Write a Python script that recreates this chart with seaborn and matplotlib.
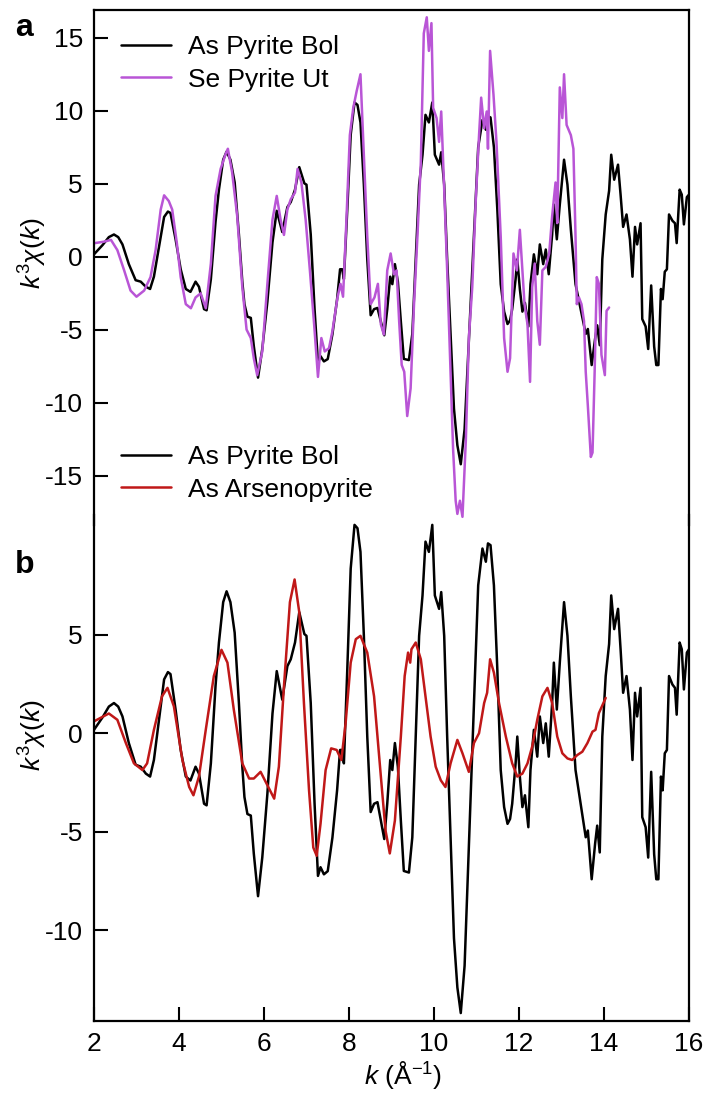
import numpy as np
import pandas as pd
import matplotlib
matplotlib.use('Agg')
import matplotlib.pyplot as plt
import seaborn as sns

# As Pyrite Bol (black, both panels)
k_bol = [2.00, 2.20, 2.35, 2.47, 2.57, 2.67, 2.82, 2.98, 3.10, 3.22, 3.32, 3.41, 3.53, 3.65, 3.74, 3.80,
         3.92, 4.04, 4.16, 4.27, 4.39, 4.47, 4.59, 4.65, 4.75, 4.86, 4.94, 5.04, 5.12, 5.21, 5.31, 5.41,
         5.49, 5.54, 5.61, 5.69, 5.76, 5.86, 5.96, 6.08, 6.20, 6.30, 6.43, 6.55, 6.63, 6.73, 6.83, 6.95,
         7.00, 7.10, 7.19, 7.27, 7.33, 7.41, 7.50, 7.61, 7.72, 7.79, 7.84, 7.88, 7.96, 8.04, 8.13, 8.20,
         8.27, 8.35, 8.43, 8.51, 8.59, 8.67, 8.75, 8.83, 8.90, 8.97, 9.02, 9.08, 9.15, 9.22, 9.29, 9.41,
         9.49, 9.57, 9.65, 9.73, 9.80, 9.88, 9.96, 10.02, 10.12, 10.17, 10.24, 10.31, 10.39, 10.47, 10.55,
         10.63, 10.72, 10.80, 10.86, 10.94, 11.04, 11.14, 11.22, 11.27, 11.33, 11.41, 11.49, 11.57, 11.65,
         11.73, 11.79, 11.84, 11.92, 11.96, 12.02, 12.08, 12.14, 12.22, 12.27, 12.35, 12.43, 12.49, 12.57,
         12.63, 12.70, 12.78, 12.82, 12.89, 12.96, 13.06, 13.14, 13.22, 13.33, 13.45, 13.57, 13.62, 13.71,
         13.79, 13.84, 13.90, 13.96, 14.04, 14.12, 14.17, 14.24, 14.33, 14.39, 14.45, 14.53, 14.61, 14.67,
         14.73, 14.78, 14.86, 14.90, 14.98, 15.04, 15.11, 15.18, 15.23, 15.28, 15.34, 15.38, 15.43, 15.48,
         15.53, 15.61, 15.67, 15.71, 15.78, 15.83, 15.88, 15.95, 16.00]
chi_bol = [0.17, 0.80, 1.35, 1.53, 1.35, 0.85, -0.5, -1.6, -1.7, -2.05, -2.2, -1.36, 0.68, 2.73, 3.1, 3.0,
           1.2, -0.85, -2.2, -2.4, -1.7, -2.05, -3.58, -3.66, -1.53, 2.4, 4.6, 6.65, 7.2, 6.65, 5.1, 1.53,
           -1.7, -3.24, -4.1, -4.18, -6.1, -8.27, -6.3, -3.07, 1.0, 3.15, 1.7, 3.4, 3.75, 4.6, 6.14, 5.03,
           4.94, 1.53, -3.58, -7.24, -6.8, -7.16, -7.0, -5.3, -2.9, -0.85, -0.85, -1.53, 3.24, 8.35, 10.57, 10.4,
           9.2, 4.94, -0.17, -4.0, -3.58, -3.5, -4.43, -5.37, -3.58, -1.36, -1.87, -0.5, -1.7, -4.43, -6.99, -7.07,
           -5.28, -0.17, 4.94, 6.99, 9.72, 9.2, 10.57, 6.99, 6.31, 7.16, 4.94, -0.17, -5.28, -10.4, -12.9,
           -14.2, -11.8, -6.99, -3.24, 1.53, 7.5, 9.37, 8.7, 9.63, 9.54, 7.5, 3.24, -1.87, -3.75,
           -4.6, -4.35, -3.58, -1.53, -0.17, -2.2, -3.75, -3.15, -4.77, -1.87, 0.17, -1.19, 0.85, -0.5,
           0.5, -1.19, 1.53, 3.58, 1.2, 3.58, 6.65, 4.94, 1.87, -1.87, -3.58, -5.28, -4.94, -7.41,
           -5.62, -4.69, -6.05, -0.17, 2.9, 4.52, 6.99, 5.28, 6.31, 4.26, 2.05, 2.9, 1.19, -1.36,
           2.05, 0.85, 2.3, -4.26, -4.77, -6.31, -1.96, -6.14, -7.41, -7.41, -2.2, -2.9, -1.02, -0.85,
           2.9, 2.47, 2.3, 0.94, 4.6, 4.26, 2.22, 4.09, 4.26]

# Se Pyrite Ut (purple, panel a)
k_se = [2.00, 2.24, 2.40, 2.55, 2.71, 2.86, 3.00, 3.18, 3.33, 3.45, 3.57, 3.65, 3.76, 3.84, 3.95, 4.04,
        4.16, 4.28, 4.39, 4.51, 4.63, 4.75, 4.86, 4.98, 5.10, 5.15, 5.25, 5.37, 5.49, 5.59, 5.69, 5.76,
        5.84, 5.96, 6.08, 6.20, 6.30, 6.39, 6.47, 6.55, 6.63, 6.73, 6.79, 6.88, 6.98, 7.08, 7.18, 7.27,
        7.35, 7.43, 7.53, 7.61, 7.73, 7.80, 7.86, 7.94, 8.02, 8.10, 8.18, 8.27, 8.33, 8.43, 8.51, 8.60,
        8.68, 8.75, 8.82, 8.90, 8.98, 9.06, 9.12, 9.18, 9.24, 9.30, 9.37, 9.45, 9.53, 9.61, 9.69, 9.76,
        9.83, 9.88, 9.94, 9.98, 10.06, 10.12, 10.17, 10.24, 10.31, 10.39, 10.45, 10.51, 10.55, 10.61, 10.67,
        10.75, 10.82, 10.90, 10.98, 11.06, 11.11, 11.18, 11.24, 11.27, 11.32, 11.40, 11.47, 11.57, 11.65,
        11.73, 11.79, 11.87, 11.95, 12.02, 12.08, 12.13, 12.20, 12.26, 12.31, 12.37, 12.43, 12.49, 12.55,
        12.63, 12.71, 12.78, 12.86, 12.90, 12.96, 13.02, 13.06, 13.12, 13.22, 13.28, 13.33, 13.36, 13.41,
        13.47, 13.53, 13.57, 13.62, 13.69, 13.73, 13.78, 13.83, 13.88, 13.94, 14.02, 14.06, 14.12]
chi_se = [0.93, 1.04, 1.16, 0.46, -0.93, -2.31, -2.73, -2.31, -1.39, 0.46, 3.24, 4.21, 3.82, 3.24, 0.93, -1.39,
          -3.24, -3.52, -2.78, -2.5, -3.52, -0.46, 4.17, 6.02, 7.06, 7.4, 5.79, 2.78, -2.08, -4.98, -5.56, -6.94,
          -8.1, -6.48, -1.85, 2.55, 4.17, 2.55, 1.5, 3.24, 3.94, 4.4, 6.02, 5.09, 2.55, -0.93, -4.63, -8.22,
          -5.56, -6.48, -6.25, -5.09, -2.78, -1.85, -2.73, 2.55, 8.33, 10.19, 11.34, 12.5, 8.33, 1.39, -3.24, -2.78,
          -1.85, -4.63, -5.32, -0.93, 0.23, -1.2, -0.93, -4.4, -7.4, -7.87, -10.9, -9.0, -3.24, 1.39, 6.48, 15.3,
          16.4, 14.1, 16.0, 10.2, 9.5, 7.87, 9.95, 4.63, -0.93, -7.87, -13.2, -16.7, -17.6, -16.7, -17.8,
          -12.5, -5.56, -2.08, 3.7, 8.33, 10.9, 8.8, 9.95, 7.4, 14.1, 11.1, 7.87, 1.39, -5.56,
          -7.87, -6.94, 0.23, -0.93, 1.85, -0.93, -3.24, -4.63, -8.56, -2.08, -0.46, -4.4, -6.02, -0.93,
          -0.69, 0.23, 2.78, 5.09, 2.31, 11.6, 9.5, 12.5, 9.03, 8.33, 7.4, 1.39, -3.24, -2.78,
          -3.24, -4.4, -7.87, -10.2, -13.7, -13.4, -7.87, -1.39, -1.85, -6.71, -8.1, -3.7, -3.47]

# As Arsenopyrite (red, panel b)
k_aspy = [2.00, 2.35, 2.55, 2.75, 2.94, 3.14, 3.25, 3.41, 3.60, 3.73, 3.88, 4.08, 4.24, 4.34, 4.47, 4.63,
          4.82, 5.00, 5.14, 5.29, 5.49, 5.65, 5.76, 5.92, 6.08, 6.24, 6.35, 6.47, 6.61, 6.72, 6.83, 6.94,
          7.06, 7.16, 7.24, 7.33, 7.45, 7.58, 7.71, 7.82, 7.92, 8.04, 8.16, 8.27, 8.43, 8.59, 8.75, 8.86,
          8.96, 9.08, 9.22, 9.31, 9.39, 9.44, 9.47, 9.57, 9.69, 9.80, 9.92, 10.04, 10.16, 10.27, 10.39, 10.55,
          10.67, 10.82, 10.94, 11.06, 11.18, 11.25, 11.32, 11.41, 11.53, 11.69, 11.84, 11.96, 12.08, 12.20,
          12.31, 12.43, 12.55, 12.67, 12.78, 12.90, 13.02, 13.14, 13.25, 13.37, 13.49, 13.61, 13.73, 13.80,
          13.88, 14.04]
chi_aspy = [0.6, 1.0, 0.68, -0.5, -1.53, -1.87, -1.53, 0.17, 1.87, 2.3, 1.36, -1.36, -2.73, -3.15, -2.2, 0.17,
            2.9, 4.23, 3.58, 1.19, -1.53, -2.3, -2.3, -1.96, -2.64, -3.32, -1.7, 2.39, 6.65, 7.8, 6.14, 1.53,
            -2.9, -5.8, -6.22, -4.6, -1.87, -0.77, -0.85, -1.36, 0.5, 3.58, 4.77, 4.94, 4.09, 1.87, -2.2, -4.94,
            -6.1, -4.43, -0.17, 2.9, 4.09, 3.58, 4.26, 4.6, 3.75, 1.87, -0.17, -1.7, -2.39, -2.73, -1.53, -0.34,
            -1.02, -1.96, -0.5, 0.0, 1.53, 2.05, 3.75, 3.07, 1.53, -0.17, -1.53, -2.2, -2.05, -1.53,
            -0.68, 0.68, 1.87, 2.3, 1.53, -0.17, -1.02, -1.28, -1.36, -1.11, -0.94, -0.5, 0.08, 0.17,
            1.02, 1.79]

labels = ['As Pyrite Bol', 'Se Pyrite Ut', 'As Arsenopyrite']
colors = ['black', '#B955D6', '#C01818']

sns.set_theme(style='white')
plt.rcParams['font.family'] = ['Liberation Sans', 'DejaVu Sans']
plt.rcParams['mathtext.fontset'] = 'custom'
plt.rcParams['mathtext.rm'] = 'Liberation Sans'
plt.rcParams['mathtext.it'] = 'Liberation Sans:italic'
plt.rcParams['axes.unicode_minus'] = False
plt.rcParams['text.color'] = 'black'
plt.rcParams['axes.labelcolor'] = 'black'

bol = pd.DataFrame({'k': k_bol, 'chi': chi_bol})
se = pd.DataFrame({'k': k_se, 'chi': chi_se})
aspy = pd.DataFrame({'k': k_aspy, 'chi': chi_aspy})

fig = plt.figure(figsize=(7.12, 11.09), dpi=100)
ax_a = fig.add_axes([0.1320, 0.5266, 0.8357, 0.4644])
ax_b = fig.add_axes([0.1320, 0.0794, 0.8357, 0.4562])

lw = 1.8
fs = 19

# Panel a
sns.lineplot(data=bol, x='k', y='chi', ax=ax_a, color=colors[0], lw=lw, label=labels[0],
             estimator=None, sort=False)
sns.lineplot(data=se, x='k', y='chi', ax=ax_a, color=colors[1], lw=lw, label=labels[1],
             estimator=None, sort=False)
ax_a.set_ylim(-18.36, 16.9)
ax_a.set_yticks([-15, -10, -5, 0, 5, 10, 15])

# Panel b
sns.lineplot(data=bol, x='k', y='chi', ax=ax_b, color=colors[0], lw=lw, label=labels[0],
             estimator=None, sort=False)
sns.lineplot(data=aspy, x='k', y='chi', ax=ax_b, color=colors[2], lw=lw, label=labels[2],
             estimator=None, sort=False)
ax_b.set_ylim(-14.6, 11.07)
ax_b.set_yticks([-10, -5, 0, 5])
ax_b.set_xticks(range(2, 17, 2))

for ax in (ax_a, ax_b):
    ax.set_xlim(2, 16)
    ax.patch.set_visible(False)
    for s in ax.spines.values():
        s.set_linewidth(1.6)
        s.set_color('black')
    ax.tick_params(axis='both', direction='in', length=10, width=1.5, labelsize=fs, pad=8,
                   colors='black', left=True, bottom=True)
    ax.set_ylabel(r'$k^{3}\chi(k)$', fontsize=fs)
    ax.set_xlabel('')

ax_a.spines['bottom'].set_visible(False)
ax_a.tick_params(axis='x', bottom=False, labelbottom=False)
ax_b.spines['top'].set_visible(False)

ax_a.yaxis.set_label_coords(-0.075, 0.528)
ax_b.yaxis.set_label_coords(-0.075, 0.565)

ax_b.set_xlabel(r'$k$ (Å$^{-1}$)', fontsize=fs)
ax_b.xaxis.set_label_coords(0.52, -0.075)

leg_kw = dict(frameon=False, loc='upper left', fontsize=fs, handlelength=1.9,
              handletextpad=0.65, borderpad=0, borderaxespad=0, labelspacing=0.32)
ax_a.legend(bbox_to_anchor=(0.045, 0.951), **leg_kw)
ax_b.legend(bbox_to_anchor=(0.045, 1.138), **leg_kw)

fig.text(0.021, 0.9675, 'a', fontsize=23, fontweight='bold', ha='left', va='baseline')
fig.text(0.021, 0.4833, 'b', fontsize=23, fontweight='bold', ha='left', va='baseline')

fig.savefig('out.png', dpi=100)
